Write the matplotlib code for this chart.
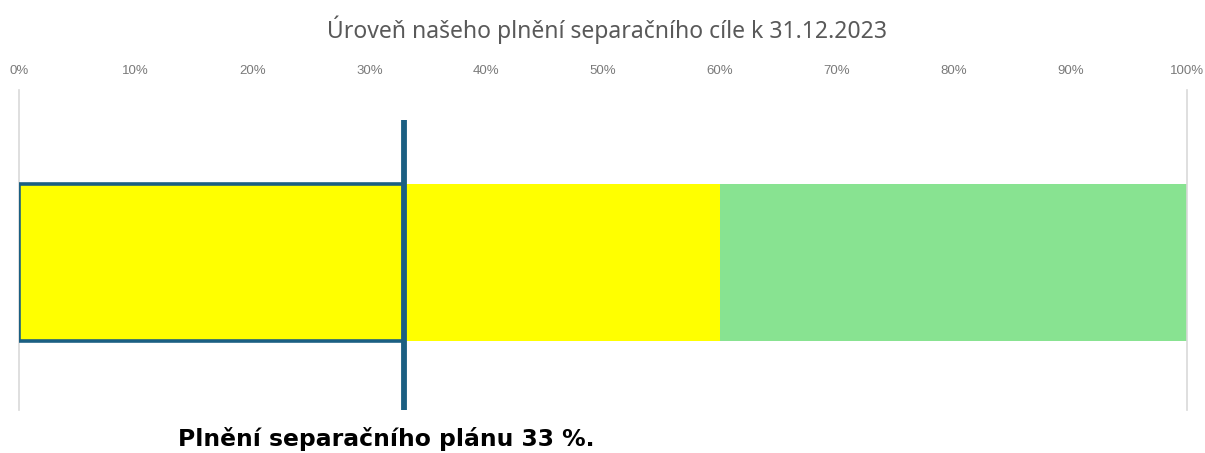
import matplotlib
matplotlib.use("Agg")
import matplotlib.pyplot as plt

# Data
band_labels = ["Nesplněno", "Splněno"]
band_starts = [0, 60]
band_widths = [60, 40]
band_colors = ["#FFFF00", "#88E391"]
actual_value = 33
tick_values = [0, 10, 20, 30, 40, 50, 60, 70, 80, 90, 100]
tick_labels = [f"{v}%" for v in tick_values]
title = "Úroveň našeho plnění separačního cíle k 31.12.2023"
footer = "Plnění separačního plánu 33 %."

W, H = 1205, 453
fig = plt.figure(figsize=(W / 100, H / 100), dpi=100)
ax = fig.add_axes([19 / W, 1 - 410 / H, (1187 - 19) / W, 320 / H])

bar_y = 0.461
bar_h = 0.49
ax.barh([bar_y] * len(band_starts), band_widths, left=band_starts, height=bar_h,
        color=band_colors, edgecolor="none", zorder=2)
# outlined actual-value box
ax.barh([bar_y], [actual_value], left=0, height=bar_h, facecolor="none",
        edgecolor="#1B5F82", linewidth=2.6, zorder=3)
# marker line
ax.plot([actual_value, actual_value], [0, 0.906], color="#1B5F82", linewidth=4.2,
        solid_capstyle="butt", zorder=4)

ax.set_xlim(0, 100)
ax.set_ylim(0, 1)
ax.xaxis.tick_top()
ax.set_xticks(tick_values)
ax.set_xticklabels(tick_labels, fontsize=9.5, color="#7A7A7A", family="Liberation Sans")
ax.tick_params(axis="x", length=0, pad=9.5)
ax.set_yticks([])
for s in ["top", "bottom"]:
    ax.spines[s].set_visible(False)
for s in ["left", "right"]:
    ax.spines[s].set_color("#D9D9D9")
    ax.spines[s].set_linewidth(1.2)

fig.text(607 / W, 1 - 30 / H, title, ha="center", va="center", fontsize=16.5,
         color="#595959", family="Noto Sans")
fig.text(178 / W, 1 - 439 / H, footer, ha="left", va="center", fontsize=16.9,
         fontweight="bold", color="black", family="DejaVu Sans")

fig.savefig("out.png", dpi=100, facecolor="white")
